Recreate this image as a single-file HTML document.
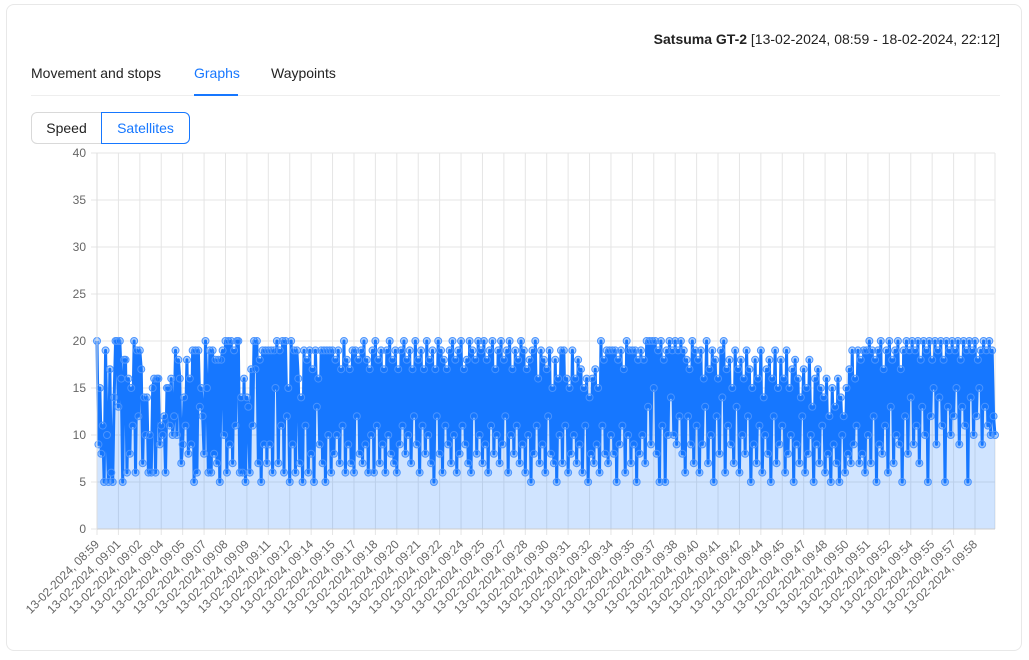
<!DOCTYPE html>
<html><head><meta charset="utf-8">
<style>
body{margin:0;width:1029px;height:660px;background:#fff;font-family:"Liberation Sans",sans-serif;overflow:hidden;position:relative}
.card{position:absolute;left:6px;top:4px;width:1016px;height:647px;border:1px solid #e8e8e8;border-radius:8px;box-sizing:border-box}
.title{position:absolute;right:29px;top:31px;font-size:14px;color:#222}
.tab{position:absolute;top:65px;font-size:14px;color:#222}
.btn{position:absolute;top:112px;height:32px;box-sizing:border-box;font-size:14px;line-height:30px;text-align:center}
</style></head><body>
<div class="card"></div>
<div class="title"><b>Satsuma GT-2</b> [13-02-2024, 08:59 - 18-02-2024, 22:12]</div>
<div class="tab" style="left:31px">Movement and stops</div>
<div class="tab" style="left:194px;color:#1677ff">Graphs</div>
<div class="tab" style="left:271px">Waypoints</div>
<div style="position:absolute;left:31px;top:95px;width:969px;height:1px;background:#eee"></div>
<div style="position:absolute;left:194px;top:94px;width:44px;height:2px;background:#1677ff"></div>
<div class="btn" style="left:31px;width:71px;border:1px solid #d9d9d9;border-radius:6px 0 0 6px;color:#222">Speed</div>
<div class="btn" style="left:101px;width:89px;border:1px solid #1677ff;border-radius:0 6px 6px 0;color:#1677ff">Satellites</div>
<svg id="chart" width="1029" height="660" style="position:absolute;left:0;top:0"></svg>
<script>
const yTicks=[0,5,10,15,20,25,30,35,40];
const timeLabels=["08:59","09:01","09:02","09:04","09:05","09:07","09:08","09:09","09:11","09:12","09:14","09:15","09:17","09:18","09:20","09:21","09:22","09:24","09:25","09:27","09:28","09:30","09:31","09:32","09:34","09:35","09:37","09:38","09:40","09:41","09:42","09:44","09:45","09:47","09:48","09:50","09:51","09:52","09:54","09:55","09:57","09:58"];
const labelEvery=15;
const satellites=[
20,9,15,8,11,5,19,10,5,17,6,5,14,20,20,13,20,16,5,18,18,6,16,8,15,11,20,6,19,12,
19,17,7,14,10,14,6,10,6,15,16,6,16,16,9,11,10,12,6,15,15,11,16,10,12,19,10,18,16,7,
9,14,11,18,8,16,9,19,5,19,6,19,13,15,12,8,20,15,6,19,6,19,8,18,7,18,5,18,19,10,
20,6,20,9,20,7,19,11,20,20,6,14,6,16,5,14,13,6,17,11,20,17,20,7,18,5,19,9,19,7,
19,9,19,6,19,15,20,7,19,11,20,6,20,12,15,5,20,9,19,6,19,16,7,14,5,19,11,18,6,19,
8,17,5,19,13,16,9,19,7,19,5,19,10,19,6,19,8,18,10,19,7,17,11,20,6,18,9,17,7,19,
6,19,12,18,8,19,7,20,9,18,6,17,10,19,6,20,11,18,7,19,9,17,6,19,10,20,8,18,7,19,
6,17,9,19,11,20,8,18,10,19,7,17,12,20,9,18,6,19,11,17,8,20,10,18,7,19,5,17,12,20,
8,19,6,18,11,17,9,19,7,20,10,18,6,19,8,20,11,17,9,18,7,20,6,19,12,18,8,20,10,19,
7,20,9,18,6,19,11,20,8,17,10,19,7,20,9,18,12,19,6,20,10,17,8,19,11,18,7,20,9,19,
6,17,10,18,5,19,8,20,11,16,7,19,9,18,6,17,12,19,8,15,7,18,5,16,10,19,7,19,11,16,
6,15,8,19,10,16,7,18,9,17,6,15,11,16,5,14,8,16,7,17,9,15,6,20,11,18,8,19,7,19,
10,19,8,19,5,18,9,19,11,17,6,20,10,19,7,19,9,19,5,18,8,19,10,18,7,20,13,20,9,20,
15,20,8,19,5,20,11,18,5,19,10,20,14,19,10,20,9,19,12,20,8,19,6,18,12,17,9,20,7,19,
11,18,6,19,9,16,13,20,7,17,10,19,5,18,12,16,8,19,14,20,6,17,11,18,9,15,7,19,13,17,
6,18,10,16,8,19,12,17,5,15,9,18,7,16,11,19,6,14,10,17,8,18,5,16,12,19,7,15,9,18,
11,16,6,19,8,15,10,17,5,18,9,16,7,14,12,17,6,15,8,18,10,13,5,16,9,17,7,15,11,14,
6,16,8,12,5,15,9,13,7,16,5,14,10,12,6,15,8,17,7,19,9,16,11,19,7,18,8,19,6,19,
10,20,7,19,12,18,5,19,9,20,8,17,11,19,6,20,13,18,7,19,10,20,9,17,5,19,12,20,8,19,
14,20,9,19,11,20,7,18,13,20,10,19,5,20,12,18,15,20,9,19,14,20,11,18,5,20,13,19,10,20,
12,19,15,20,9,18,13,20,11,19,5,20,14,19,10,20,12,18,15,19,9,20,13,19,11,20,10,19,12,10];
const svg=document.getElementById('chart');const NS='http://www.w3.org/2000/svg';
const L=97,R=995,T=153,B=529,yMax=40;
const N=satellites.length;
const xs=i=>L+(R-L)*i/(N-1);
const ys=v=>B-(B-T)*v/yMax;
function mk(t,a){const e=document.createElementNS(NS,t);for(const k in a)e.setAttribute(k,a[k]);svg.appendChild(e);return e;}
yTicks.forEach(v=>{
 const g=mk('line',{x1:L-6,x2:R,y1:ys(v),y2:ys(v),stroke:'#e5e5e5'});
 
 
 const t=mk('text',{x:L-11,y:ys(v)+4,'text-anchor':'end','font-size':12,fill:'#666','font-family':'Liberation Sans, sans-serif'});
 t.textContent=v;
 
 
});
timeLabels.forEach((s,k)=>{
 const x=xs(k*labelEvery);
 const g=mk('line',{x1:x,x2:x,y1:T,y2:B+6,stroke:'#e5e5e5'});
 
 
 const t=mk('text',{x:x+3,y:B+16,'text-anchor':'end','font-size':12,fill:'#666','font-family':'Liberation Sans, sans-serif',transform:`rotate(-45 ${x+3} ${B+16})`});
 t.textContent='13-02-2024, '+s;
 
 
});
mk('line',{x1:R,x2:R,y1:T,y2:B,stroke:'#e5e5e5'});
let d='';satellites.forEach((v,i)=>{d+=(i?'L':'M')+xs(i).toFixed(2)+' '+ys(v).toFixed(2);});
const area=mk('path',{d:d+`L${R} ${B}L${L} ${B}Z`,fill:'rgba(22,119,255,0.2)'});


const line=mk('path',{d:d,fill:'none',stroke:'#1677ff','stroke-width':3,'stroke-linejoin':'round'});


satellites.forEach((v,i)=>{
 const c=mk('circle',{cx:xs(i),cy:ys(v),r:3.5,fill:'rgba(22,119,255,0.35)',stroke:'#4a94ff','stroke-width':1});
 
 
});
mk('line',{x1:L,x2:R,y1:B,y2:B,stroke:'#ccc'});
mk('line',{x1:L,x2:L,y1:T,y2:B,stroke:'#ddd'});
</script>
</body></html>
